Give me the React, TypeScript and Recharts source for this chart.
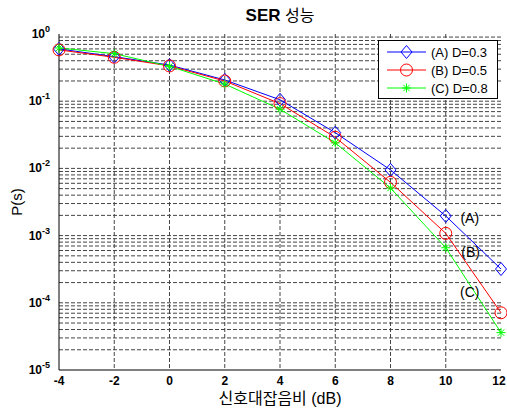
import React from 'react';
import {
  LineChart, Line, XAxis, YAxis, CartesianGrid, Legend, ReferenceDot, ReferenceLine,
} from 'recharts';

// ---- data ----
const snrDb = [-4, -2, 0, 2, 4, 6, 8, 10, 12];
const serA = [0.60, 0.46, 0.345, 0.207, 0.105, 0.034, 0.0095, 0.00196, 0.000318];
const serB = [0.58, 0.45, 0.335, 0.20, 0.092, 0.029, 0.0062, 0.00108, 0.000071];
const serC = [0.62, 0.51, 0.33, 0.18, 0.076, 0.024, 0.0051, 0.00066, 0.000036];

const seriesKeys = ['a', 'b', 'c'];
const seriesNames = ['(A) D=0.3', '(B) D=0.5', '(C) D=0.8'];
const seriesColors = ['#0000ff', '#ff0000', '#00ff00'];
const seriesMarkers = ['diamond', 'circle', 'star'];

const xTicks = [-4, -2, 0, 2, 4, 6, 8, 10, 12];
const xGridValues = [-2, 0, 2, 4, 6, 8, 10];
const yTicks = [1e-5, 1e-4, 1e-3, 1e-2, 1e-1, 1];
const yTickExponents = ['-5', '-4', '-3', '-2', '-1', '0'];
const minorMultipliers = [2, 3, 4, 5, 6, 7, 8, 9];
const decades = [1e-5, 1e-4, 1e-3, 1e-2, 1e-1];
const yGridValues = [
  ...decades.flatMap((d) => minorMultipliers.map((m) => m * d)),
  1e-4, 1e-3, 1e-2, 1e-1,
];

const annotationLabels = ['(A)', '(B)', '(C)'];
const annotationX = [10.87, 10.9, 10.87];
const annotationY = [1.83e-3, 5.76e-4, 1.46e-4];

const titleLatin = 'SER';
const titleKorean = '성능';

const data = snrDb.map((x, i) => ({ snr: x, a: serA[i], b: serB[i], c: serC[i] }));

const FONT = '"Liberation Sans", Arial, "Noto Sans CJK KR", sans-serif';
const KFONT = '"Liberation Sans", "Noto Sans CJK KR", sans-serif';
const GRID = '#444';

function Marker({ type, cx, cy, color }: { type: string; cx: number; cy: number; color: string }) {
  if (type === 'diamond') {
    return (
      <polygon
        points={`${cx},${cy - 6.5} ${cx + 5.5},${cy} ${cx},${cy + 6.5} ${cx - 5.5},${cy}`}
        fill="none" stroke={color} strokeWidth={1}
      />
    );
  }
  if (type === 'circle') {
    return <circle cx={cx} cy={cy} r={6} fill="none" stroke={color} strokeWidth={1} />;
  }
  const r = 4.5;
  const d = r * 0.707;
  return (
    <g stroke={color} strokeWidth={1}>
      <line x1={cx - r} y1={cy} x2={cx + r} y2={cy} />
      <line x1={cx} y1={cy - r} x2={cx} y2={cy + r} />
      <line x1={cx - d} y1={cy - d} x2={cx + d} y2={cy + d} />
      <line x1={cx - d} y1={cy + d} x2={cx + d} y2={cy - d} />
    </g>
  );
}

const makeDot = (idx: number) => (props: any) => {
  const { cx, cy, index } = props;
  if (cx == null || cy == null) return <g key={`d${idx}-${index}`} />;
  return (
    <g key={`d${idx}-${index}`}>
      <Marker type={seriesMarkers[idx]} cx={cx} cy={cy} color={seriesColors[idx]} />
    </g>
  );
};

const XTick = (props: any) => {
  const { x, y, payload } = props;
  return (
    <text x={x} y={y + 15} textAnchor="middle" fontFamily={FONT} fontSize={12} fontWeight="bold" fill="#000">
      {payload.value}
    </text>
  );
};

const YTick = (props: any) => {
  const { x, y, payload, index } = props;
  const i = yTicks.indexOf(payload.value);
  const exp = yTickExponents[i >= 0 ? i : index];
  return (
    <text x={x - 9} y={y + 4} textAnchor="end" fontFamily={FONT} fontSize={12} fontWeight="bold" fill="#000">
      <tspan>10</tspan>
      <tspan dy={-6} fontSize={9}>{exp}</tspan>
    </text>
  );
};

const LegendBox = () => (
  <div style={{ width: 118, height: 57, border: '1px solid #000', background: '#fff', boxSizing: 'content-box' }}>
    <svg width={118} height={57} style={{ display: 'block' }}>
      {seriesNames.map((name, i) => {
        const y = 11 + i * 18;
        return (
          <g key={name}>
            <line x1={8} y1={y} x2={47} y2={y} stroke={seriesColors[i]} strokeWidth={1} />
            <Marker type={seriesMarkers[i]} cx={27.5} cy={y} color={seriesColors[i]} />
            <text x={52} y={y + 5} fontFamily={FONT} fontSize={13} fill="#000">{name}</text>
          </g>
        );
      })}
    </svg>
  </div>
);

export default function App() {
  return (
    <div style={{ position: 'absolute', left: 0, top: 0, width: 507, height: 409, background: '#fff' }}>
      <div style={{ position: 'absolute', left: 59, width: 442, top: 5, textAlign: 'center', lineHeight: '22px', color: '#000', zIndex: 2, whiteSpace: 'nowrap' }}>
        <span style={{ fontFamily: FONT, fontSize: 17, fontWeight: 'bold' }}>{titleLatin}</span>
        <span style={{ fontFamily: KFONT, fontSize: 16, fontWeight: 'normal' }}>{' ' + titleKorean}</span>
      </div>
      <LineChart width={507} height={409} data={data} margin={{ top: 34, right: 6, bottom: 0, left: 0 }}>
        <CartesianGrid
          horizontal={false}
          verticalValues={xGridValues}
          stroke={GRID}
          strokeDasharray="4 2"
          fill="none"
        />
        {yGridValues.map((v) => (
          <ReferenceLine key={`g${v}`} y={v} stroke={GRID} strokeDasharray="4 2" strokeWidth={1} />
        ))}
        <XAxis
          dataKey="snr"
          type="number"
          domain={[-4, 12]}
          ticks={xTicks}
          height={39}
          tickSize={0}
          tickMargin={0}
          tick={<XTick />}
          axisLine={{ stroke: '#000' }}
          tickLine={false}
          label={{ value: '신호대잡음비 (dB)', position: 'insideBottom', offset: 5, fontFamily: KFONT, fontSize: 16, fill: '#000' }}
        />
        <XAxis
          xAxisId="top"
          orientation="top"
          type="number"
          domain={[-4, 12]}
          ticks={xTicks}
          height={0}
          tick={false}
          tickLine={false}
          axisLine={{ stroke: '#000' }}
        />
        <YAxis
          type="number"
          scale="log"
          domain={[1e-5, 1]}
          allowDataOverflow
          ticks={yTicks}
          width={59}
          tickSize={0}
          tickMargin={0}
          tick={<YTick />}
          axisLine={{ stroke: '#000' }}
          tickLine={false}
          label={{ value: 'P(s)', angle: -90, position: 'insideLeft', offset: 17, style: { textAnchor: 'middle' }, fontFamily: FONT, fontSize: 15, fill: '#000' }}
        />
        <YAxis
          yAxisId="right"
          orientation="right"
          type="number"
          scale="log"
          domain={[1e-5, 1]}
          allowDataOverflow
          ticks={yTicks}
          width={0}
          tick={false}
          tickLine={false}
          axisLine={{ stroke: '#000' }}
        />
        {seriesKeys.map((k, i) => (
          <Line
            key={k}
            dataKey={k}
            name={seriesNames[i]}
            stroke={seriesColors[i]}
            strokeWidth={1}
            dot={makeDot(i)}
            activeDot={false}
            isAnimationActive={false}
          />
        ))}
        {annotationLabels.map((lab, i) => (
          <ReferenceDot
            key={lab}
            x={annotationX[i]}
            y={annotationY[i]}
            r={1}
            fill="none"
            stroke="none"
            ifOverflow="visible"
            label={{ value: lab, position: 'center', fontFamily: FONT, fontSize: 14, fill: '#000' }}
          />
        ))}
        <Legend
          layout="vertical"
          align="center"
          verticalAlign="middle"
          content={<LegendBox />}
          wrapperStyle={{ left: 378, top: 40, width: 120, height: 59 }}
        />
      </LineChart>
    </div>
  );
}
